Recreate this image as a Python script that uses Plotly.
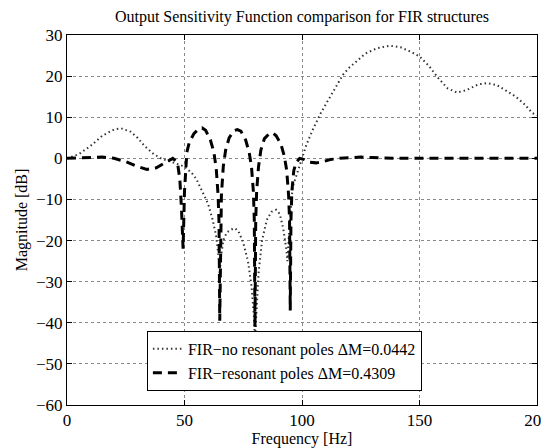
import plotly.graph_objects as go

# Dotted curve: FIR - no resonant poles
freq_nores = [0, 5, 10, 15, 20, 23, 27, 30, 33, 37, 40, 45, 50, 53, 55, 57.5, 60, 62, 63.5,
              64.5, 65, 65.5, 66.5, 68, 70, 71.5, 73, 75, 77, 78.5, 79.5, 80, 80.5, 81.5, 83,
              85, 87, 89, 90.5, 92, 93.3, 93.8, 94.5, 95.5, 96, 98, 100, 102, 105, 108, 111,
              114, 117.5, 120, 123, 127, 132, 137.5, 142, 146, 150, 154, 158, 162, 166, 170,
              175, 179, 183, 187, 191, 195, 198, 200]
mag_nores = [0, 1, 3, 5.5, 7, 7.3, 6.5, 5, 3, 1, 0, -1, -2, -3.5, -5, -8, -11, -15, -19,
             -24, -28, -24, -20, -18, -17.3, -17, -17.8, -20.5, -25, -31, -38, -44, -38, -28, -20,
             -15, -13, -12.5, -13.5, -17, -22, -25, -18, -11, -7, -3.5, 0, 3.5, 7.5, 11, 14,
             17, 20.4, 22, 23.6, 25.5, 26.8, 27.4, 27, 26, 24.8, 22.5, 19.5, 17, 16, 16.6,
             18, 18.3, 17.8, 16.5, 15, 13, 11, 10.5]

# Dashed curve: FIR - resonant poles
freq_res = [0, 5, 10, 15, 20, 25, 30, 34, 38, 42, 45, 47, 48, 48.7, 49.4, 50, 50.5, 51, 52,
            54, 56, 57.5, 59, 61, 62.5, 63.5, 64.3, 64.7, 65, 65.3, 65.7, 66.5, 67.5, 69, 71,
            72.5, 74, 76, 77.5, 78.5, 79.3, 79.7, 80, 80.3, 80.7, 81.5, 82.5, 84, 86, 87.5,
            89, 91, 92.5, 93.5, 94.3, 94.7, 95, 95.3, 95.7, 96.5, 97.5, 99, 101, 103, 106,
            109, 112, 116, 120, 125, 130, 140, 150, 160, 170, 180, 190, 200]
mag_res = [0, 0.1, 0.3, 0.3, 0, -0.8, -2, -2.7, -2.3, -1, 0, -1, -5, -12, -22, -8, -2, 1.5, 3.8,
           6, 7.2, 7.4, 6.8, 4.5, 1.5, -2.5, -9, -16, -39.5, -16, -9, -2, 2, 5, 6.7,
           7, 6.6, 4.5, 1.5, -2, -8, -15, -41, -15, -8, -2, 2, 4.8, 6, 6.2,
           5.5, 3.5, 0.5, -3, -9, -15, -37, -15, -8, -3, -1, 0, -0.3, -0.9, -1.1,
           -0.8, -0.3, 0, 0.2, 0.3, 0.2, 0, 0, 0, 0, 0, 0, 0]

x_ticks = [0, 50, 100, 150, 200]
y_ticks = [-60, -50, -40, -30, -20, -10, 0, 10, 20, 30]

FONT = "Liberation Serif, Times New Roman, serif"

fig = go.Figure()
fig.add_trace(go.Scatter(
    x=freq_nores, y=mag_nores, mode="lines",
    name="FIR\u2212no resonant poles \u0394M=0.0442",
    line=dict(color="#333333", width=2, dash="1.5px,3px"),
))
fig.add_trace(go.Scatter(
    x=freq_res, y=mag_res, mode="lines",
    name="FIR\u2212resonant poles \u0394M=0.4309",
    line=dict(color="black", width=3, dash="9px,6px"),
))

axis_common = dict(
    showline=True, linecolor="black", linewidth=1, mirror="ticks",
    ticks="inside", ticklen=5, tickcolor="black",
    showgrid=True, gridcolor="#888888", griddash="dot", gridwidth=1,
    zeroline=False, automargin=False, ticklabeloverflow="allow",
    tickfont=dict(family=FONT, size=17, color="black"),
)

# The page body has an 8px default margin; the figure is offset by it.
fig.update_layout(
    width=549, height=440,
    margin=dict(l=59, r=20, t=27, b=43),
    paper_bgcolor="white", plot_bgcolor="white",
    title=dict(text="Output Sensitivity Function comparison for FIR structures",
               x=0.5, xref="paper", xanchor="center", y=0.982, yanchor="middle",
               font=dict(family=FONT, size=16, color="black")),
    xaxis=dict(range=[0, 200], tickvals=x_ticks,
               title=dict(text="Frequency [Hz]", standoff=0,
                          font=dict(family=FONT, size=16, color="black")),
               **axis_common),
    yaxis=dict(range=[-60, 30], tickvals=y_ticks,
               title=dict(text="Magnitude [dB]", standoff=4,
                          font=dict(family=FONT, size=16, color="black")),
               **axis_common),
    legend=dict(x=0.17, y=0.038, xanchor="left", yanchor="bottom",
                bgcolor="white", bordercolor="black", borderwidth=1,
                font=dict(family=FONT, size=16, color="black"),
                tracegroupgap=0, itemwidth=30),
    showlegend=True,
)

fig.write_html("out.html")
